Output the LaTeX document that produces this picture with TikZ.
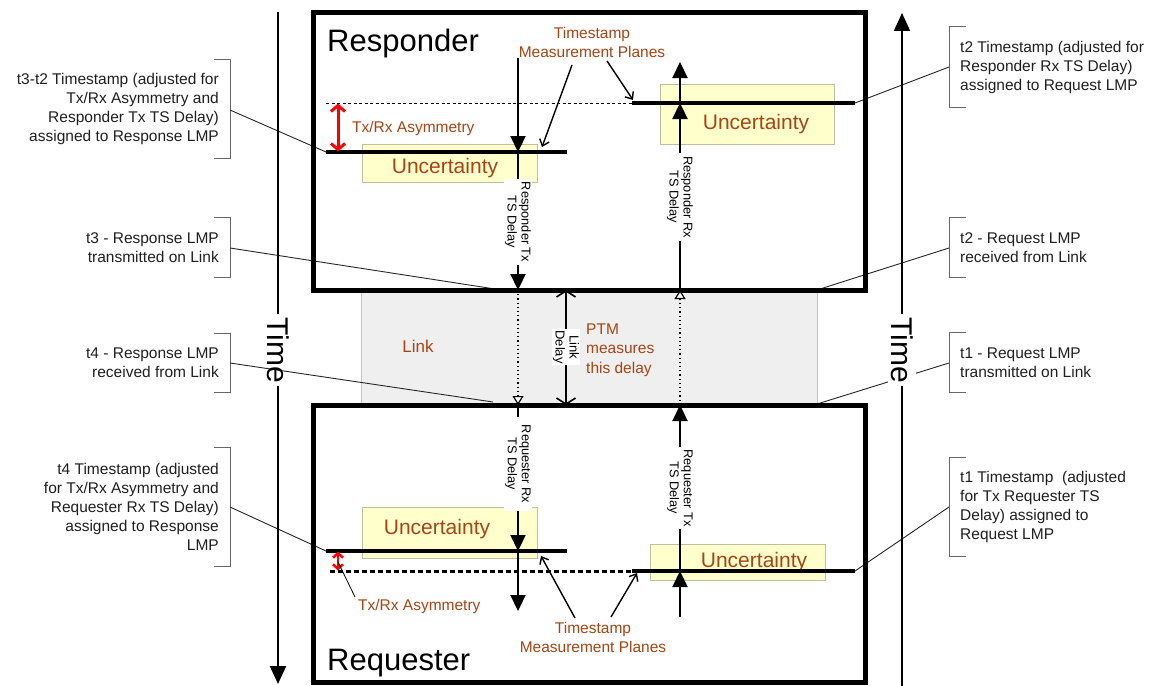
\documentclass[tikz,border=0pt]{standalone}
\usepackage{fontspec}
\setmainfont{Liberation Sans}
\usetikzlibrary{arrows.meta}
\definecolor{brn}{RGB}{165,68,20}
\definecolor{unc}{RGB}{255,255,204}
\definecolor{uncb}{RGB}{190,190,160}
\definecolor{linkf}{RGB}{239,239,239}
\definecolor{linkb}{RGB}{195,195,195}
\begin{document}
\begin{tikzpicture}[x=1pt,y=-1pt,
  ann/.style={font=\fontsize{15.5}{19}\selectfont, inner sep=0pt, text=black!88},
  lbl/.style={font=\fontsize{15.5}{19}\selectfont, text=brn, inner sep=0pt},
  unclbl/.style={font=\fontsize{21}{24}\selectfont, text=brn, inner sep=0pt, anchor=base},
  uncbox/.style={draw=uncb, fill=unc, line width=1pt, anchor=north west, inner sep=0pt},
  box/.style={draw, line width=5pt},
  plane/.style={line width=3.5pt},
  tsarrow/.style={line width=2.2pt, -{Triangle[length=16pt,width=15pt]}},
  tsline/.style={line width=2.2pt},
  rotlbl/.style={rotate=-90, fill=white, font=\fontsize{12.8}{14}\selectfont, align=center, inner xsep=3pt, inner ysep=1pt},
  dotline/.style={line width=1.2pt, dash pattern=on 1.2pt off 3pt, -{Triangle[open,fill=white,length=9pt,width=11pt]}},
  leader/.style={line width=0.9pt, draw=black!85},
  brk/.style={line width=1pt, draw=black!60},
  tsparrow/.style={line width=1.4pt, -{Straight Barb[length=6pt,width=10pt]}},
  timeline/.style={line width=2pt},
  timelbl/.style={rotate=-90, font=\fontsize{30}{32}\selectfont, inner sep=3pt},
]
\useasboundingbox (0,0) rectangle (1153,685);

% ---------- link region ----------
\node[draw=linkb, fill=linkf, line width=1pt, anchor=north west, minimum width=456pt, minimum height=115pt, inner sep=0pt] (link) at (361,290) {};

% ---------- annotation leaders (under everything) ----------
\coordinate (pA) at (326,152);
\coordinate (pB) at (855,103);
\coordinate (pC) at (326,551);
\coordinate (pD) at (855,571);
\coordinate (t3pt) at (495,289);
\coordinate (t4pt) at (493,402);
\coordinate (t2pt) at (820,289);
\coordinate (t1pt) at (817,404);

% left brackets
\draw[brk] (214,60) -- (230,60) -- (230,158) -- (214,158);
\coordinate (bk1) at (230,110);
\draw[brk] (214,217) -- (230,217) -- (230,277) -- (214,277);
\coordinate (bk2) at (230,248);
\draw[brk] (214,333) -- (230,333) -- (230,392) -- (214,392);
\coordinate (bk3) at (230,363);
\draw[brk] (214,447) -- (230,447) -- (230,566) -- (214,566);
\coordinate (bk4) at (230,507);
% right brackets
\draw[brk] (966,27) -- (949,27) -- (949,107) -- (966,107);
\coordinate (bk5) at (949,67);
\draw[brk] (966,217) -- (949,217) -- (949,277) -- (966,277);
\coordinate (bk6) at (949,248);
\draw[brk] (966,332) -- (949,332) -- (949,392) -- (966,392);
\coordinate (bk7) at (949,363);
\draw[brk] (966,457) -- (949,457) -- (949,556) -- (966,556);
\coordinate (bk8) at (949,507);

\draw[leader] (bk1) -- (pA);
\draw[leader] (bk2) -- (t3pt);
\draw[leader] (bk3) -- (t4pt);
\draw[leader] (bk4) -- (pC);
\draw[leader] (bk5) -- (pB);
\draw[leader] (bk6) -- (t2pt);
\draw[leader] (bk7) -- (t1pt);
\draw[leader] (bk8) -- (pD);

% annotation texts
\node[ann, anchor=east, align=right] (a1) at (219,109) {t3-t2 Timestamp (adjusted for\\Tx/Rx Asymmetry and\\Responder Tx TS Delay)\\assigned to Response LMP};
\node[ann, anchor=east, align=right] (a2) at (219,247.5) {t3 - Response LMP\\transmitted on Link};
\node[ann, anchor=east, align=right] (a3) at (219,362.5) {t4 - Response LMP\\received from Link};
\node[ann, anchor=east, align=right] (a4) at (219,507) {t4 Timestamp (adjusted\\for Tx/Rx Asymmetry and\\Requester Rx TS Delay)\\assigned to Response\\LMP};
\node[ann, anchor=west, align=left] (a5) at (960,67) {t2 Timestamp (adjusted for\\Responder Rx TS Delay)\\assigned to Request LMP};
\node[ann, anchor=west, align=left] (a6) at (960,247.5) {t2 - Request LMP\\received from Link};
\node[ann, anchor=west, align=left] (a7) at (960,362.5) {t1 - Request LMP\\transmitted on Link};
\node[ann, anchor=west, align=left] (a8) at (960,507) {t1 Timestamp~ (adjusted\\for Tx Requester TS\\Delay) assigned to\\Request LMP};

% ---------- time axes ----------
\node[timelbl] (timeL) at (278,350) {Time};
\node[timelbl, fill=white] (timeR) at (902,350) {Time};
\coordinate (tLtop) at (278,12);
\coordinate (tLbot) at (278,684);
\coordinate (tRtop) at (902,13);
\coordinate (tRbot) at (902,686);
\draw[timeline] (tLtop) -- (timeL.west);
\draw[timeline, -{Triangle[length=18pt,width=16pt]}] (timeL.east) -- (tLbot);
\draw[timeline, -{Triangle[length=18pt,width=16pt]}] (timeR.west) -- (tRtop);
\draw[timeline] (timeR.east) -- (tRbot);

% ---------- device boxes ----------
\draw[box] (313,13) rectangle (865,290);
\draw[box] (313,405) rectangle (865,682);
\node[anchor=base west, font=\fontsize{31}{34}\selectfont, inner sep=0pt] (respname) at (327,52) {Responder};
\node[anchor=base west, font=\fontsize{31}{34}\selectfont, inner sep=0pt] (reqname) at (327,670) {Requester};

% ---------- uncertainty boxes ----------
\node[uncbox, minimum width=175pt, minimum height=38pt] (uA) at (362,144) {};
\node[uncbox, minimum width=174pt, minimum height=60pt] (uB) at (660,84) {};
\node[uncbox, minimum width=175pt, minimum height=51pt] (uC) at (362,507) {};
\node[uncbox, minimum width=175pt, minimum height=36pt] (uD) at (650,544) {};
\node[unclbl] (uAt) at (445,173) {Uncertainty};
\node[unclbl] (uBt) at (756,129) {Uncertainty};
\node[unclbl] (uCt) at (437,534) {Uncertainty};
\node[unclbl] (uDt) at (754,567) {Uncertainty};

% ---------- timestamp planes ----------
\coordinate (pAe) at (567,152);
\coordinate (pBs) at (632,103);
\coordinate (dA) at (326,103);
\coordinate (pCe) at (567,551);
\coordinate (pDs) at (632,571);
\coordinate (dC) at (330,571);
\draw[line width=1pt, dash pattern=on 3pt off 2.5pt] (dA) -- (pBs);
\draw[line width=3pt, dash pattern=on 5pt off 3pt] (dC) -- (pDs);
\draw[plane] (pA) -- (pAe);
\draw[plane] (pBs) -- (pB);
\draw[plane] (pC) -- (pCe);
\draw[plane] (pDs) -- (pD);

% asymmetry arrows
\coordinate (asA1) at (338,103.5);
\coordinate (asA2) at (338,151.5);
\coordinate (asC1) at (338,551.5);
\coordinate (asC2) at (338,570.5);
\draw[red, line width=3pt, {Straight Barb[length=6pt,width=14pt]}-{Straight Barb[length=6pt,width=14pt]}] (asA1) -- (asA2);
\draw[red, line width=2.5pt, {Straight Barb[length=4.5pt,width=10pt]}-{Straight Barb[length=4.5pt,width=10pt]}] (asC1) -- (asC2);
\node[lbl, anchor=west] (asymA) at (352,128) {Tx/Rx Asymmetry};
\node[lbl, anchor=west] (asymC) at (358,606) {Tx/Rx Asymmetry};
\coordinate (asCl) at (355,597);
\coordinate (asCp) at (338,562);
\draw[line width=0.8pt] (asCl) -- (asCp);

% ---------- timestamp arrows ----------
% Responder Tx / Requester Rx (x=518)
\coordinate (rtxTop) at (518,58);
\coordinate (rtxPlane) at (518,152);
\coordinate (rtxOut) at (518,290);
\coordinate (qrxIn) at (518,405);
\coordinate (qrxPlane) at (518,551);
\coordinate (qrxEnd) at (518,611);
\draw[tsarrow] (rtxTop) -- (rtxPlane);
\draw[tsarrow] (rtxPlane) -- (rtxOut);
\draw[dotline] (rtxOut) -- (qrxIn);
\draw[tsarrow] (qrxIn) -- (qrxPlane);
\draw[tsarrow] (qrxPlane) -- (qrxEnd);
\node[rotlbl] (rtxl) at (518,222) {Responder Tx\\TS Delay};
\node[rotlbl, inner xsep=8pt] (qrxl) at (518,464) {Requester Rx\\TS Delay};

% Requester Tx / Responder Rx (x=680)
\coordinate (qtxBot) at (680,617);
\coordinate (qtxPlane) at (680,571);
\coordinate (qtxOut) at (680,405);
\coordinate (rrxIn) at (680,290);
\coordinate (rrxPlane) at (680,103);
\coordinate (rrxEnd) at (680,62);
\draw[tsarrow] (qtxBot) -- (qtxPlane);
\draw[tsarrow] (qtxPlane) -- (qtxOut);
\draw[dotline] (qtxOut) -- (rrxIn);
\draw[tsarrow] (rrxIn) -- (rrxPlane);
\draw[tsarrow] (rrxPlane) -- (rrxEnd);
\node[rotlbl] (rrxl) at (680,197) {Responder Rx\\TS Delay};
\node[rotlbl] (qtxl) at (680,488) {Requester Tx\\TS Delay};

% link delay
\coordinate (ldTop) at (566,290);
\coordinate (ldBot) at (566,405);
\draw[line width=1.6pt, {Straight Barb[length=6pt,width=19pt]}-{Straight Barb[length=6pt,width=19pt]}] (ldTop) -- (ldBot);
\node[rotlbl, font=\fontsize{13}{14}\selectfont, inner xsep=1pt] (ldl) at (566,347) {Link\\Delay};
\node[lbl, anchor=west, align=left, font=\fontsize{15.5}{19.5}\selectfont] (ptm) at (586,350) {PTM\\measures\\this delay};
\node[lbl, font=\fontsize{17}{19}\selectfont] (linkl) at (418,346) {Link};

% ---------- timestamp measurement plane labels ----------
\node[lbl, align=center] (tsp1) at (592,42) {Timestamp\\Measurement Planes};
\node[lbl, align=center] (tsp2) at (593,637) {Timestamp\\Measurement Planes};
\coordinate (tsp1a) at (572,65);
\coordinate (tsp1b) at (607,61);
\coordinate (tsp1ae) at (542,147);
\coordinate (tsp1be) at (633,100);
\coordinate (tsp2a) at (575,618);
\coordinate (tsp2b) at (611,617);
\coordinate (tsp2ae) at (541,556);
\coordinate (tsp2be) at (637,573);
\draw[tsparrow] (tsp1a) -- (tsp1ae);
\draw[tsparrow] (tsp1b) -- (tsp1be);
\draw[tsparrow] (tsp2a) -- (tsp2ae);
\draw[tsparrow] (tsp2b) -- (tsp2be);
\end{tikzpicture}
\end{document}
